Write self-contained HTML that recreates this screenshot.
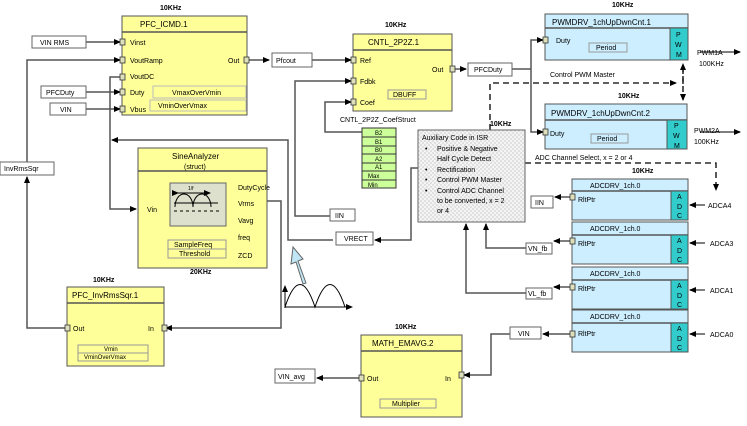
<!DOCTYPE html>
<html><head><meta charset="utf-8"><style>
body{margin:0;background:#fff}
svg{display:block}
text{font-family:"Liberation Sans",sans-serif;font-size:7px;fill:#000}
.t{font-size:8px}
.b{font-weight:bold}
</style></head><body>
<svg width="747" height="426" viewBox="0 0 747 426" xmlns="http://www.w3.org/2000/svg">
<defs>
<marker id="a" markerWidth="7" markerHeight="6" refX="6" refY="3" orient="auto" markerUnits="userSpaceOnUse"><path d="M0,0L7,3L0,6z" fill="#000"/></marker>
<pattern id="chk" width="4" height="4" patternUnits="userSpaceOnUse"><rect width="4" height="4" fill="#f4f4f4"/><rect width="2" height="2" fill="#e0e0e0"/><rect x="2" y="2" width="2" height="2" fill="#e0e0e0"/></pattern>
</defs>
<g stroke="#555" stroke-width="1.5" fill="none">
<path d="M86 42H120" marker-end="url(#a)"/>
<path d="M86 92H120" marker-end="url(#a)"/>
<path d="M86 109H120" marker-end="url(#a)"/>
<path d="M27 162V60H120" marker-end="url(#a)"/>
<path d="M67 328H27V177" marker-end="url(#a)"/>
<path d="M120 77H110V209H136" marker-end="url(#a)"/>
<path d="M333 240H288V140H112" marker-end="url(#a)"/>
<path d="M246 60H269" marker-end="url(#a)"/>
<path d="M312 60H351" marker-end="url(#a)"/>
<path d="M330 216H295V81H351" marker-end="url(#a)"/>
<path d="M362 132H325V102H351" marker-end="url(#a)"/>
<path d="M452 69H466" marker-end="url(#a)"/>
<path d="M512 69H531"/>
<path d="M531 69V40H543" marker-end="url(#a)"/>
<path d="M531 69V132H543" marker-end="url(#a)"/>
<path d="M267 201H281V328H166" marker-end="url(#a)"/>
<path d="M418 168H411V240H375" marker-end="url(#a)"/>
<path d="M572 197H555" marker-end="url(#a)"/>
<path d="M572 241H554" marker-end="url(#a)"/>
<path d="M526 248H486V224" marker-end="url(#a)"/>
<path d="M572 287H554" marker-end="url(#a)"/>
<path d="M526 293H466V224" marker-end="url(#a)"/>
<path d="M572 334H543" marker-end="url(#a)"/>
<path d="M510 334H491V375H464" marker-end="url(#a)"/>
<path d="M361 378H317" marker-end="url(#a)"/>
<path d="M700 52H740" marker-end="url(#a)"/>
<path d="M700 132H740" marker-end="url(#a)"/>
<path d="M705 205H690" marker-end="url(#a)"/>
<path d="M705 243H690" marker-end="url(#a)"/>
<path d="M705 290H690" marker-end="url(#a)"/>
<path d="M705 334H690" marker-end="url(#a)"/>
</g>
<g stroke="#000" stroke-width="1.3" fill="none" stroke-dasharray="6,4">
<path d="M490 130V83H676" marker-end="url(#a)"/>
<path d="M683 66V100" marker-end="url(#a)"/>
<path d="M683 84V64" marker-end="url(#a)"/>
<path d="M525 163H716V190" marker-end="url(#a)"/>
</g>
<g fill="#fff" stroke="#666">
<rect x="32" y="36" width="54" height="12"/>
<rect x="41" y="86" width="45" height="12"/>
<rect x="50" y="103" width="36" height="12"/>
<rect x="0" y="162" width="54" height="13"/>
<rect x="272" y="53" width="40" height="14"/>
<rect x="468" y="63" width="44" height="13"/>
<rect x="330" y="209" width="25" height="12"/>
<rect x="336" y="232" width="37" height="13"/>
<rect x="531" y="196" width="22" height="12"/>
<rect x="526" y="243" width="26" height="11"/>
<rect x="526" y="288" width="26" height="11"/>
<rect x="510" y="327" width="31" height="12"/>
<rect x="275" y="369" width="40" height="14"/>
</g>
<text x="40" y="45">VIN RMS</text><text x="46" y="95">PFCDuty</text><text x="60" y="112">VIN</text>
<text x="4" y="171">InvRmsSqr</text><text x="276" y="63">Pfcout</text><text x="474" y="72">PFCDuty</text>
<text x="335" y="218">IIN</text><text x="344" y="241">VRECT</text><text x="535" y="205">IIN</text>
<text x="528" y="251">VN_fb</text><text x="528" y="296">VL_fb</text><text x="518" y="336">VIN</text><text x="278" y="379">VIN_avg</text>
<rect x="122" y="16" width="125" height="99" fill="#ffff99" stroke="#555"/>
<line x1="122" y1="32" x2="247" y2="32" stroke="#555" stroke-width="1.5"/>
<text x="140" y="27" class="t">PFC_ICMD.1</text>
<text x="160" y="10" class="b">10KHz</text>
<text x="130" y="45">Vinst</text><text x="130" y="63">VoutRamp</text><text x="130" y="79">VoutDC</text><text x="130" y="95">Duty</text><text x="130" y="112">Vbus</text>
<text x="228" y="63">Out</text>
<rect x="153" y="86" width="93" height="12" fill="#ffff99" stroke="#bbb"/><rect x="150" y="100" width="96" height="11" fill="#ffff99" stroke="#bbb"/>
<text x="172" y="95">VmaxOverVmin</text><text x="158" y="108">VminOverVmax</text>
<rect x="353" y="34" width="99" height="77" fill="#ffff99" stroke="#555"/>
<line x1="353" y1="50" x2="452" y2="50" stroke="#555" stroke-width="1.5"/>
<text x="368" y="45" class="t">CNTL_2P2Z.1</text><text x="385" y="27" class="b">10KHz</text>
<text x="360" y="63">Ref</text><text x="360" y="84">Fdbk</text><text x="360" y="105">Coef</text><text x="432" y="72">Out</text>
<rect x="388" y="90" width="38" height="9" fill="#ffff99" stroke="#999"/><text x="393" y="97">DBUFF</text>
<text x="340" y="122">CNTL_2P2Z_CoefStruct</text>
<g fill="#ccff99" stroke="#333"><rect x="362" y="128" width="34" height="9"/><rect x="362" y="137" width="34" height="9"/><rect x="362" y="146" width="34" height="8"/><rect x="362" y="154" width="34" height="9"/><rect x="362" y="163" width="34" height="8"/><rect x="362" y="171" width="34" height="9"/><rect x="362" y="180" width="34" height="8"/></g>
<text x="375" y="135" style="font-size:6px">B2</text><text x="375" y="144" style="font-size:6px">B1</text><text x="375" y="152" style="font-size:6px">B0</text><text x="375" y="161" style="font-size:6px">A2</text><text x="375" y="169" style="font-size:6px">A1</text><text x="368" y="178" style="font-size:6px">Max</text><text x="368" y="187" style="font-size:6px">Min</text>
<rect x="545" y="14" width="143" height="46" fill="#cceeff" stroke="#555"/>
<line x1="545" y1="28" x2="688" y2="28" stroke="#555" stroke-width="1.5"/>
<rect x="670" y="28" width="18" height="32" fill="#33cccc" stroke="#555"/>
<text x="552" y="25" class="t">PWMDRV_1chUpDwnCnt.1</text><text x="612" y="7" class="b">10KHz</text>
<text x="556" y="43">Duty</text><rect x="589" y="43" width="38" height="9" fill="#cceeff" stroke="#999"/><text x="596" y="50">Period</text>
<text x="676" y="37">P</text><text x="675" y="47">W</text><text x="676" y="57">M</text>
<text x="697" y="55">PWM1A</text><text x="699" y="66">100KHz</text>
<text x="550" y="77">Control PWM Master</text>
<rect x="545" y="104" width="142" height="45" fill="#cceeff" stroke="#555"/>
<line x1="545" y1="120" x2="687" y2="120" stroke="#555" stroke-width="1.5"/>
<rect x="667" y="120" width="20" height="29" fill="#33cccc" stroke="#555"/>
<text x="551" y="116" class="t">PWMDRV_1chUpDwnCnt.2</text><text x="618" y="98" class="b">10KHz</text>
<text x="550" y="136">Duty</text><rect x="591" y="134" width="37" height="9" fill="#cceeff" stroke="#999"/><text x="597" y="141">Period</text>
<text x="674" y="128">P</text><text x="673" y="138">W</text><text x="674" y="148">M</text>
<text x="694" y="133">PWM2A</text><text x="694" y="144">100KHz</text>
<text x="535" y="160">ADC Channel Select, x = 2 or 4</text>
<rect x="418" y="130" width="107" height="92" fill="url(#chk)" stroke="#666"/>
<text x="490" y="126" class="b">10KHz</text>
<text x="422" y="140">Auxiliary Code in ISR</text>
<text x="425" y="151">•</text><text x="437" y="151">Positive &amp; Negative</text><text x="437" y="161">Half Cycle Detect</text>
<text x="425" y="172">•</text><text x="437" y="172">Rectification</text>
<text x="425" y="182">•</text><text x="437" y="182">Control PWM Master</text>
<text x="425" y="193">•</text><text x="437" y="193">Control ADC Channel</text><text x="437" y="203">to be converted, x = 2</text><text x="437" y="213">or 4</text>
<rect x="572" y="179" width="116" height="41" fill="#cceeff" stroke="#555"/><line x1="572" y1="191" x2="688" y2="191" stroke="#555" stroke-width="1.5"/><rect x="671" y="191" width="17" height="29" fill="#33cccc" stroke="#555"/>
<rect x="572" y="222" width="116" height="42" fill="#cceeff" stroke="#555"/><line x1="572" y1="235" x2="688" y2="235" stroke="#555" stroke-width="1.5"/><rect x="671" y="235" width="17" height="29" fill="#33cccc" stroke="#555"/>
<rect x="572" y="267" width="116" height="42" fill="#cceeff" stroke="#555"/><line x1="572" y1="280" x2="688" y2="280" stroke="#555" stroke-width="1.5"/><rect x="671" y="280" width="17" height="29" fill="#33cccc" stroke="#555"/>
<rect x="572" y="310" width="116" height="42" fill="#cceeff" stroke="#555"/><line x1="572" y1="323" x2="688" y2="323" stroke="#555" stroke-width="1.5"/><rect x="671" y="323" width="17" height="29" fill="#33cccc" stroke="#555"/>
<text x="632" y="173" class="b">10KHz</text>
<text x="590" y="188">ADCDRV_1ch.0</text><text x="590" y="231">ADCDRV_1ch.0</text><text x="590" y="276">ADCDRV_1ch.0</text><text x="590" y="319">ADCDRV_1ch.0</text>
<text x="578" y="202">RltPtr</text><text x="578" y="246">RltPtr</text><text x="578" y="291">RltPtr</text><text x="578" y="336">RltPtr</text>
<text x="677" y="199">A</text><text x="677" y="209">D</text><text x="677" y="218">C</text>
<text x="677" y="243">A</text><text x="677" y="253">D</text><text x="677" y="262">C</text>
<text x="677" y="288">A</text><text x="677" y="298">D</text><text x="677" y="307">C</text>
<text x="677" y="331">A</text><text x="677" y="341">D</text><text x="677" y="350">C</text>
<text x="708" y="208">ADCA4</text><text x="710" y="246">ADCA3</text><text x="710" y="293">ADCA1</text><text x="710" y="337">ADCA0</text>
<rect x="138" y="148" width="129" height="120" fill="#ffff99" stroke="#555"/>
<line x1="138" y1="171" x2="267" y2="171" stroke="#555" stroke-width="1.5"/>
<text x="172" y="159" class="t">SineAnalyzer</text><text x="184" y="169">(struct)</text>
<rect x="170" y="183" width="56" height="43" fill="#dde0cc" stroke="#666"/>
<path d="M175 207A9 13 0 0 1 193 207A9 13 0 0 1 211 207" stroke="#000" fill="none"/>
<path d="M174 203H218" stroke="#000"/><path d="M174 211H222" stroke="#000" stroke-dasharray="3,3"/>
<path d="M178 193H210" stroke="#000" marker-start="url(#a)" marker-end="url(#a)"/>
<text x="188" y="190" style="font-size:5px">1/f</text>
<text x="147" y="212">Vin</text>
<text x="238" y="190">DutyCycle</text><text x="238" y="206">Vrms</text><text x="238" y="223">Vavg</text><text x="238" y="240">freq</text><text x="238" y="258">ZCD</text>
<rect x="168" y="240" width="58" height="9" fill="#ffff99" stroke="#999"/><rect x="168" y="249" width="58" height="9" fill="#ffff99" stroke="#999"/>
<text x="174" y="247">SampleFreq</text><text x="179" y="256">Threshold</text>
<text x="190" y="274" class="b">20KHz</text>
<path d="M306 283L298 261L303 259L293 247L291 264L296 262L303 284Z" fill="#bfe6f5" stroke="#666"/>
<path d="M285 308V286" stroke="#000" marker-end="url(#a)"/>
<path d="M285 307H352" stroke="#000" marker-end="url(#a)"/>
<path d="M285 307Q300 262 315 307Q330 262 345 307" fill="none" stroke="#000"/>
<rect x="67" y="287" width="97" height="79" fill="#ffff99" stroke="#555"/>
<line x1="67" y1="303" x2="164" y2="303" stroke="#555" stroke-width="1.5"/>
<text x="72" y="298" class="t">PFC_InvRmsSqr.1</text><text x="93" y="282" class="b">10KHz</text>
<text x="73" y="331">Out</text><text x="148" y="331">In</text>
<rect x="78" y="345" width="70" height="8" fill="#ffff99" stroke="#999"/><rect x="78" y="353" width="70" height="8" fill="#ffff99" stroke="#999"/>
<text x="104" y="351" style="font-size:6px">Vmin</text><text x="84" y="359" style="font-size:6px">VminOverVmax</text>
<rect x="361" y="335" width="101" height="82" fill="#ffff99" stroke="#555"/>
<line x1="361" y1="351" x2="462" y2="351" stroke="#555" stroke-width="1.5"/>
<text x="372" y="346" class="t">MATH_EMAVG.2</text><text x="395" y="329" class="b">10KHz</text>
<text x="367" y="381">Out</text><text x="445" y="381">In</text>
<rect x="380" y="399" width="56" height="9" fill="#ffff99" stroke="#999"/><text x="392" y="406">Multiplier</text>
<g fill="#dde0bb" stroke="#333" stroke-width="0.8">
<rect x="120" y="39" width="5" height="6"/><rect x="120" y="57" width="5" height="6"/><rect x="120" y="74" width="5" height="6"/><rect x="120" y="89" width="5" height="6"/><rect x="120" y="106" width="5" height="6"/><rect x="244" y="57" width="5" height="6"/>
<rect x="351" y="57" width="5" height="6"/><rect x="351" y="78" width="5" height="6"/><rect x="351" y="99" width="5" height="6"/><rect x="450" y="66" width="5" height="6"/>
<rect x="543" y="37" width="5" height="6"/><rect x="543" y="129" width="5" height="6"/>
<rect x="570" y="194" width="5" height="6"/><rect x="570" y="238" width="5" height="6"/><rect x="570" y="284" width="5" height="6"/><rect x="570" y="331" width="5" height="6"/>
<rect x="65" y="325" width="5" height="6"/><rect x="162" y="325" width="5" height="6"/>
<rect x="359" y="375" width="5" height="6"/><rect x="459" y="372" width="5" height="6"/>
</g>
</svg>
</body></html>
